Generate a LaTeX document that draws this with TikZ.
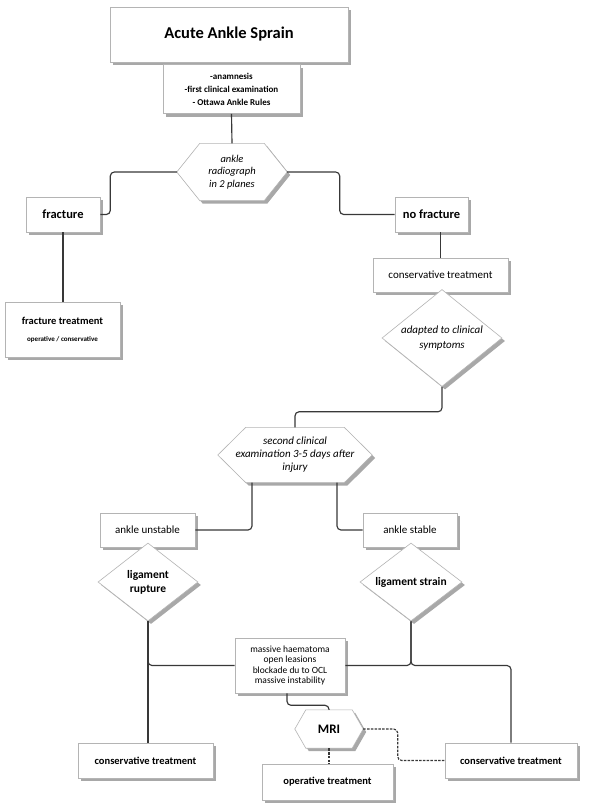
\documentclass[tikz,border=0pt]{standalone}
\usepackage{fontspec}
\setmainfont{Carlito}
\usetikzlibrary{shapes.geometric,shadows,calc}
\pgfdeclarelayer{bg}
\pgfsetlayers{bg,main}
\definecolor{linec}{HTML}{383838}
\definecolor{borderc}{HTML}{B4B4B4}
\definecolor{shadc}{HTML}{A8A8A8}
\tikzset{
  box/.style={draw=borderc, line width=0.6pt, fill=white, inner sep=1pt, align=center,
    drop shadow={shadow xshift=3pt, shadow yshift=-3pt, fill=shadc, opacity=1}},
  dia/.style={diamond, draw=borderc, line width=0.6pt, fill=white, inner sep=0pt, align=center,
    drop shadow={shadow xshift=3pt, shadow yshift=-3pt, fill=shadc, opacity=1}},
  hexlabel/.style={inner sep=0pt, align=center},
  conn/.style={draw=linec, line width=1.15pt, rounded corners=4pt},
  dconn/.style={conn, dash pattern=on 2.5pt off 1.3pt},
}
\newcommand\fs[2]{\fontsize{#1}{#2}\selectfont}
\newcommand\drawhex[2]{%
  \begin{pgfonlayer}{bg}
  \fill[shadc, transform canvas={xshift=3pt,yshift=-3pt}] (#1.west) -- ([xshift=#2]#1.north west) -- ([xshift=-#2]#1.north east) -- (#1.east) -- ([xshift=-#2]#1.south east) -- ([xshift=#2]#1.south west) -- cycle;
  \filldraw[fill=white, draw=borderc, line width=0.6pt] (#1.west) -- ([xshift=#2]#1.north west) -- ([xshift=-#2]#1.north east) -- (#1.east) -- ([xshift=-#2]#1.south east) -- ([xshift=#2]#1.south west) -- cycle;
  \end{pgfonlayer}}
\begin{document}
\begin{tikzpicture}[x=1pt,y=-1pt]
\begin{pgfonlayer}{bg}
\fill[white] (0,0) rectangle (600,806);
\end{pgfonlayer}
\useasboundingbox (0,0) rectangle (600,806);

% top
\node[box, minimum width=238, minimum height=55, font=\fs{16.5}{19}\bfseries] (title) at (229,34.5) {Acute Ankle Sprain};
\node[box, minimum width=137, minimum height=49, font=\fs{9}{13}\bfseries] (box2) at (231.5,89) {-anamnesis\\-first clinical examination\\- Ottawa Ankle Rules};

\node[hexlabel, minimum width=110, minimum height=57, font=\fs{10.5}{12.5}\itshape] (hex1) at (232,172) {ankle\\radiograph\\in 2 planes};
\drawhex{hex1}{23pt}

\node[box, minimum width=74, minimum height=35, font=\fs{12.5}{14}\bfseries] (fract) at (63,214.5) {fracture};
\node[box, minimum width=73, minimum height=35, font=\fs{12.5}{14}\bfseries] (nofr) at (431.5,214.5) {no fracture};

\node[box, minimum width=115, minimum height=55, font=\fs{10.5}{12}\bfseries] (ftreat) at (62.5,329.5) {fracture treatment\\[5pt]{\fs{7}{8}operative / conservative}};

\node[box, minimum width=135, minimum height=34, font=\fs{11}{13}] (cons1) at (440.5,275) {conservative treatment};
\node[dia, minimum width=120, minimum height=97, aspect=1.24, font=\fs{11}{14.5}\itshape] (adapt) at (442,338) {adapted to clinical\\symptoms};

\node[hexlabel, minimum width=154, minimum height=55, font=\fs{11}{13}\itshape] (hex2) at (295,455) {second clinical\\examination 3-5 days after\\injury};
\drawhex{hex2}{28pt}

\node[box, minimum width=95, minimum height=34, font=\fs{11}{13}] (unst) at (147.5,530) {ankle unstable};
\node[box, minimum width=94, minimum height=34, font=\fs{11}{13}] (stab) at (410,530) {ankle stable};

\node[dia, minimum width=100, minimum height=78, aspect=1.28, font=\fs{11.5}{14}\bfseries] (rupt) at (148,582) {ligament\\rupture};
\node[dia, minimum width=102, minimum height=78, aspect=1.3, font=\fs{11.5}{13}\bfseries] (strain) at (411,582) {ligament strain};

\node[box, minimum width=110, minimum height=55, font=\fs{9.5}{10.5}] (mid) at (290,665.5) {massive haematoma\\open leasions\\blockade du to OCL\\massive instability};

\node[hexlabel, minimum width=68, minimum height=38, font=\fs{13}{15}\bfseries] (mri) at (329,729) {MRI};
\drawhex{mri}{11pt}

\node[box, minimum width=131, minimum height=36, font=\fs{10.5}{13}\bfseries] (op) at (327.5,782) {operative treatment};
\node[box, minimum width=135, minimum height=35, font=\fs{10.5}{13}\bfseries] (lcons) at (145.5,760.5) {conservative treatment};
\node[box, minimum width=132, minimum height=35, font=\fs{10.5}{13}\bfseries] (rcons) at (511,760.5) {conservative treatment};

% connectors
\draw[conn] (box2.south) -- (hex1.north);
\draw[conn] (hex1.west) -| ([xshift=10pt]fract.east) -- (fract.east);
\draw[conn] (hex1.east) -| ([xshift=-55pt]nofr.west) -- (nofr.west);
\draw[conn] (fract.south) -- (fract.south |- ftreat.north);
\draw[conn] (cons1.north |- nofr.south) -- (cons1.north);
\draw[conn] (adapt.south) -- ++(0,25) -| (hex2.north);
\draw[conn] ([xshift=-43pt]hex2.south) |- (unst.east);
\draw[conn] ([xshift=42pt]hex2.south) |- (stab.west);
\draw[conn] (rupt.south) -- (rupt.south |- lcons.north);
\draw[conn] (rupt.south) |- (mid.west);
\draw[conn] (strain.south) |- (mid.east);
\draw[conn] (strain.south) |- (rcons.north |- mid.east) -- (rcons.north);
\draw[conn] ([xshift=-3pt]mid.south) -- ++(0,12) -| (mri.north);
\draw[dconn] (mri.south) -- (mri.south |- op.north);
\draw[dconn] (mri.east) -| ([xshift=-47pt]rcons.west) -- (rcons.west);
\end{tikzpicture}
\end{document}
